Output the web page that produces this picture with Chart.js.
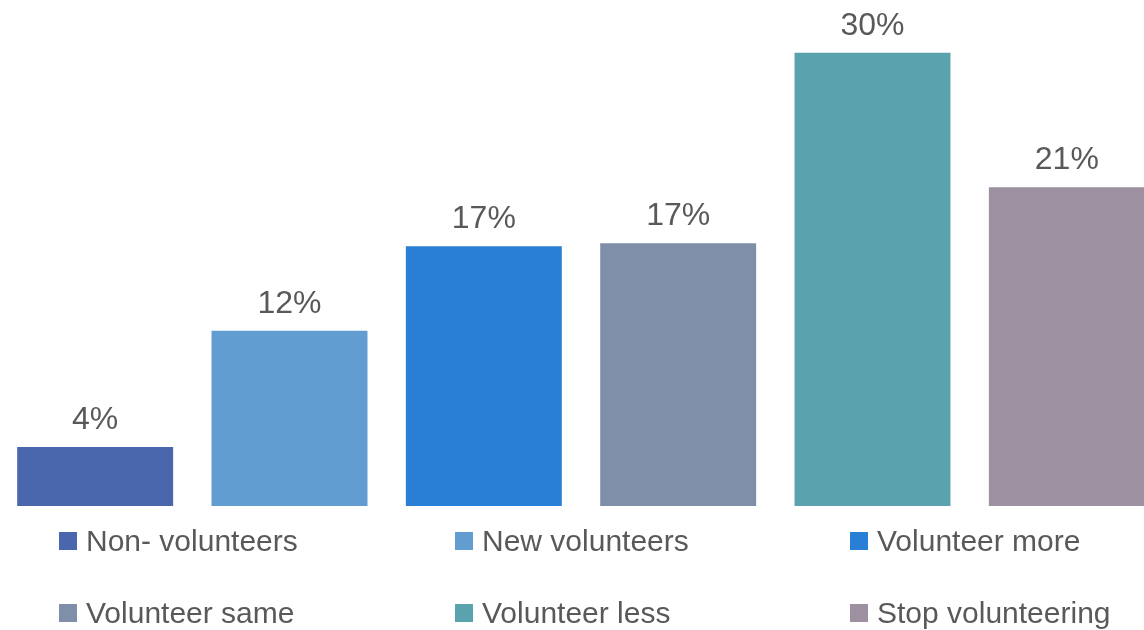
<!DOCTYPE html>
<html>
<head>
<meta charset="utf-8">
<script src="https://cdn.jsdelivr.net/npm/chart.js@4.4.1/dist/chart.umd.min.js"></script>
<style>
  html, body { margin: 0; padding: 0; width: 1144px; height: 630px; overflow: hidden; background: #fff; }
  #wrap { position: absolute; left: -2px; top: 0; width: 1166px; height: 630px; }
  #legend { position: absolute; left: 0; top: 0; width: 1144px; height: 630px; pointer-events: none; }
  .item { position: absolute; display: flex; align-items: center; font-family: "Liberation Sans", Arial, sans-serif; font-size: 30px; color: #595959; line-height: 1; white-space: nowrap; }
  .box { width: 18px; height: 18px; margin-right: 9px; flex: none; }
</style>
</head>
<body>
<div id="wrap"><canvas id="volunteering" width="1166" height="630"></canvas></div>
<div id="legend"></div>
<script>
// share of respondents per group (%)
var groups = ['Non- volunteers', 'New volunteers', 'Volunteer more', 'Volunteer same', 'Volunteer less', 'Stop volunteering'];
var shares = [3.9, 11.6, 17.2, 17.4, 30.0, 21.1];
var groupColors = ['#4A66AC', '#629DD1', '#297FD5', '#7F8FA9', '#5AA2AE', '#9D90A0'];

// percentage printed above each bar
var valueLabels = {
    id: 'valueLabels',
    afterDatasetsDraw: function (chart) {
        var ctx = chart.ctx;
        var meta = chart.getDatasetMeta(0);
        ctx.save();
        ctx.font = '32px "Liberation Sans", Arial, sans-serif';
        ctx.fillStyle = '#595959';
        ctx.textAlign = 'center';
        ctx.textBaseline = 'alphabetic';
        meta.data.forEach(function (bar, i) {
            ctx.fillText(Math.round(shares[i]) + '%', bar.x, bar.y - 18);
        });
        ctx.restore();
    }
};

var chart = new Chart(document.getElementById('volunteering'), {
    type: 'bar',
    data: {
        labels: groups,
        datasets: [{
            data: shares,
            backgroundColor: groupColors,
            borderWidth: 0,
            categoryPercentage: 1,
            barPercentage: 0.8025
        }]
    },
    options: {
        responsive: false,
        animation: false,
        layout: { padding: { top: 0, right: 0, bottom: 124, left: 0 } },
        plugins: { legend: { display: false }, tooltip: { enabled: false } },
        scales: {
            x: { display: false },
            y: { display: false, min: 0, max: 33.5 }
        }
    },
    plugins: [valueLabels]
});

// two rows of three legend entries under the bars
var legend = document.getElementById('legend');
var colX = [59, 455, 850];
var rowY = [527, 599];
groups.forEach(function (name, i) {
    var item = document.createElement('div');
    item.className = 'item';
    item.style.left = colX[i % 3] + 'px';
    item.style.top = rowY[Math.floor(i / 3)] + 'px';
    item.style.height = '28px';
    var box = document.createElement('span');
    box.className = 'box';
    box.style.background = groupColors[i];
    item.appendChild(box);
    item.appendChild(document.createTextNode(name));
    legend.appendChild(item);
});
</script>
</body>
</html>
